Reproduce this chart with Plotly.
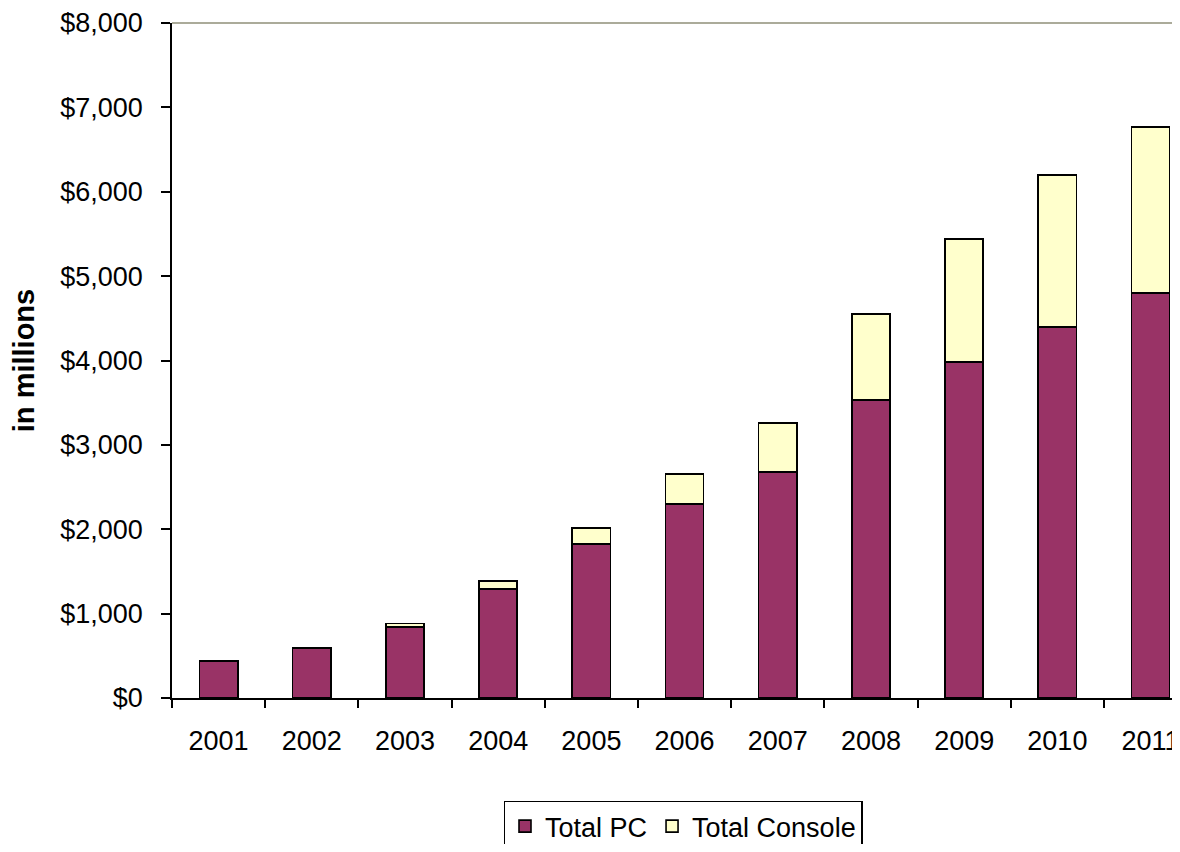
import plotly.graph_objects as go

years = ["2001", "2002", "2003", "2004", "2005", "2006", "2007", "2008", "2009", "2010", "2011"]
total_pc = [440, 590, 840, 1290, 1825, 2300, 2680, 3530, 3980, 4400, 4800]
total_console = [0, 0, 45, 100, 190, 355, 580, 1020, 1460, 1800, 1970]

FONT = "Arial, 'Liberation Sans', sans-serif"

fig = go.Figure()
fig.add_trace(go.Bar(
    x=years, y=total_pc, name="Total PC",
    marker=dict(color="#993366", line=dict(color="#000000", width=1.6)),
    width=0.41,
))
fig.add_trace(go.Bar(
    x=years, y=total_console, name="Total Console",
    marker=dict(color="#FFFFCC", line=dict(color="#000000", width=1.6)),
    width=0.41,
))

fig.update_layout(
    barmode="stack",
    width=1164, height=836,
    margin=dict(l=164, r=0, t=15, b=146, autoexpand=False),
    plot_bgcolor="white", paper_bgcolor="white",
    font=dict(family=FONT, size=27, color="#000000"),
    showlegend=True,
    legend=dict(
        orientation="h", x=0.511, xanchor="center", y=-0.152, yanchor="top",
        bordercolor="#000000", borderwidth=1.5,
        font=dict(family=FONT, size=27, color="#000000"),
        traceorder="normal", itemwidth=30,
    ),
)
fig.update_xaxes(
    type="category", range=[-0.5, 10.23],
    showline=True, linecolor="#000000", linewidth=1.5,
    ticks="outside", ticklen=8, tickcolor="#000000", tickwidth=1.5,
    tickson="boundaries", showgrid=False, ticklabelstandoff=18,
    tickfont=dict(family=FONT, size=27, color="#000000"),
)
fig.update_yaxes(
    range=[0, 8000], tickvals=[0, 1000, 2000, 3000, 4000, 5000, 6000, 7000, 8000],
    tickformat="$,.0f",
    showline=True, linecolor="#000000", linewidth=1.5,
    ticks="outside", ticklen=9, tickcolor="#000000", tickwidth=1.5,
    showgrid=False, zeroline=False, ticklabelstandoff=13,
    tickfont=dict(family=FONT, size=27, color="#000000"),
    title=dict(text="<b>in millions</b>", standoff=18,
               font=dict(family=FONT, size=29, color="#000000")),
)
fig.add_shape(type="line", xref="paper", yref="paper", x0=0, x1=1, y0=1, y1=1,
              line=dict(color="#8f8f78", width=1.5))

fig.write_html("out.html")
